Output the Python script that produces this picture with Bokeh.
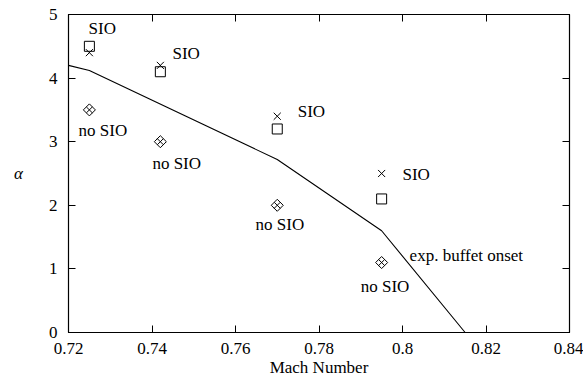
import numpy as np
from bokeh.plotting import figure
from bokeh.models import LinearAxis, FixedTicker, Label, Range1d
from bokeh.embed import file_html
from bokeh.resources import INLINE

# experimental buffet onset boundary
onset_mach = [0.72, 0.725, 0.77, 0.795, 0.815]
onset_alpha = [4.2, 4.12, 2.72, 1.6, 0.0]

# test points
mach_pts = [0.725, 0.742, 0.77, 0.795]
alpha_sio_cross = [4.4, 4.2, 3.4, 2.5]
alpha_sio_square = [4.5, 4.1, 3.2, 2.1]
alpha_no_sio = [3.5, 3.0, 2.0, 1.1]

# ticks
x_ticks = [0.72, 0.74, 0.76, 0.78, 0.8, 0.82, 0.84]
x_tick_labels = ["0.72", "0.74", "0.76", "0.78", "0.8", "0.82", "0.84"]
y_ticks = [0, 1, 2, 3, 4, 5]
y_tick_labels = ["0", "1", "2", "3", "4", "5"]

# annotations
sio_text = "SIO"
no_sio_text = "no SIO"
onset_text = "exp. buffet onset"
sio_label_pos = [(0.7248, 4.78), (0.7449, 4.38), (0.7749, 3.48), (0.8000, 2.49)]
no_sio_label_pos = [(0.7224, 3.17), (0.7401, 2.65), (0.7648, 1.70), (0.7900, 0.73)]
onset_label_pos = (0.8017, 1.21)

FONT = "Liberation Serif"
FS = "17px"

p = figure(width=583, height=379, output_backend="svg", toolbar_location=None,
           x_range=Range1d(0.72, 0.84), y_range=Range1d(0, 5),
           min_border_left=68, min_border_right=14, min_border_top=14, min_border_bottom=10)
p.grid.visible = False
p.outline_line_color = "black"
p.outline_line_width = 1.2
p.background_fill_color = "white"
p.border_fill_color = "white"

def style_axis(ax, ticks, labels, show_labels=True):
    ax.ticker = FixedTicker(ticks=ticks)
    if show_labels:
        ax.major_label_overrides = {t: l for t, l in zip(ticks, labels)}
    else:
        ax.major_label_overrides = {t: "" for t in ticks}
        ax.major_label_standoff = 0
    ax.major_tick_in = 7
    ax.major_tick_out = 0
    ax.minor_tick_line_color = None
    ax.axis_line_color = "black"
    ax.major_tick_line_color = "black"
    ax.major_label_text_font = FONT
    ax.major_label_text_font_size = FS
    ax.major_label_text_color = "black"

xa = p.xaxis[0]
ya = p.yaxis[0]
style_axis(xa, x_ticks, x_tick_labels)
style_axis(ya, y_ticks, y_tick_labels)
xa.major_label_standoff = 10
ya.major_label_standoff = 11
xa.axis_label = "Mach Number"
xa.axis_label_text_font = FONT
xa.axis_label_text_font_style = "normal"
xa.axis_label_text_font_size = FS
xa.axis_label_text_color = "black"
xa.axis_label_standoff = 1

alpha_label_done = False
if "axis_label_orientation" in ya.properties():
    ya.axis_label = "α"
    ya.axis_label_orientation = "horizontal"
    ya.axis_label_text_font = FONT
    ya.axis_label_text_font_style = "italic"
    ya.axis_label_text_font_size = FS
    ya.axis_label_text_color = "black"
    ya.axis_label_standoff = 23
    alpha_label_done = True

top = LinearAxis()
right = LinearAxis()
style_axis(top, x_ticks, x_tick_labels, show_labels=False)
style_axis(right, y_ticks, y_tick_labels, show_labels=False)
p.add_layout(top, "above")
p.add_layout(right, "right")

p.line(onset_mach, onset_alpha, line_color="black", line_width=1.1)

p.scatter(mach_pts, alpha_sio_cross, marker="x", size=10, line_color="black", line_width=1)
p.scatter(mach_pts, alpha_sio_square, marker="square", size=10, fill_color=None,
          line_color="black", line_width=1)
p.scatter(mach_pts, alpha_no_sio, marker="square_cross", size=8.5, angle=np.pi / 4,
          fill_color=None, line_color="black", line_width=1)

def add_text(x, y, txt, italic=False, align="left", units="data"):
    p.add_layout(Label(x=x, y=y, text=txt, text_font=FONT, text_font_size=FS,
                       x_units=units, y_units=units,
                       text_color="black", text_align=align, text_baseline="middle",
                       text_font_style="italic" if italic else "normal"))

for (x, y) in sio_label_pos:
    add_text(x, y, sio_text)
for (x, y) in no_sio_label_pos:
    add_text(x, y, no_sio_text)
add_text(onset_label_pos[0], onset_label_pos[1], onset_text)

if not alpha_label_done:
    ya.axis_label = "α"
    ya.axis_label_text_font = FONT
    ya.axis_label_text_font_style = "italic"
    ya.axis_label_text_font_size = FS
    ya.axis_label_standoff = 23

open("out.html", "w").write(file_html(p, INLINE))
